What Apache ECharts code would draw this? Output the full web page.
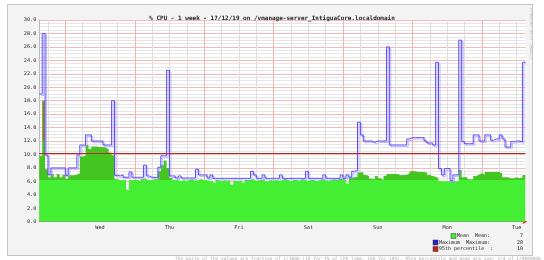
<!DOCTYPE html>
<html><head><meta charset="utf-8">
<script src="https://cdn.jsdelivr.net/npm/echarts@6/dist/echarts.min.js"></script>
<style>
html,body{margin:0;padding:0;background:#fff;}
#wrap{position:relative;width:544px;height:260px;overflow:hidden;}
#panel{position:absolute;left:7px;top:4px;width:524px;height:250px;background:#f3f3f3;border:1px solid #c4c4c4;}
#chart{position:absolute;left:0;top:0;width:544px;height:260px;}
</style></head><body>
<div id="wrap"><div id="panel"></div><div id="chart"></div></div>
<script>
const titleText = '% CPU - 1 week - 17/12/19 on /vmanage-server_IntiguaCore.localdomain';
const dayNames = ['Tue','Wed','Thu','Fri','Sat','Sun','Mon','Tue'];
const startHour = 15; // chart starts Tue 15:00, one value per hour
const mean = [
 9.8,18.0,7.8,6.6,7.1,6.6,7.1,6.6,7.0,6.4,
 6.9,6.9,7.0,7.2,9.7,9.8,11.4,10.8,11.2,11.2,
 11.1,11.1,11.0,10.8,10.3,9.9,6.3,6.2,6.2,6.2,
 4.7,6.2,6.2,6.2,6.0,6.3,6.3,6.2,6.2,6.3,
 6.3,7.5,8.4,9.1,8.0,6.5,6.2,6.2,6.0,6.2,
 6.1,6.2,6.3,6.1,6.2,6.3,6.2,6.2,6.1,6.1,
 5.8,6.2,6.0,6.2,6.1,6.2,5.5,6.1,6.0,6.2,
 5.8,6.2,6.2,6.3,6.1,6.2,6.2,6.3,6.0,6.2,
 6.1,6.2,6.1,6.2,6.3,6.2,6.0,6.2,6.2,6.1,
 6.3,6.2,6.1,6.2,6.2,6.0,6.2,6.3,6.2,6.1,
 6.2,6.3,6.2,6.4,6.3,6.2,5.7,6.5,6.6,6.7,
 7.3,7.4,6.95,6.8,6.4,6.3,6.8,6.45,6.2,6.8,
 7.1,7.1,7.1,7.1,6.9,6.95,6.95,7.2,7.5,7.5,
 7.4,7.4,7.4,7.3,6.95,6.8,6.7,6.45,6.0,6.0,
 6.0,6.0,5.95,6.0,6.0,7.7,6.6,6.6,6.3,6.3,
 6.8,7.0,7.2,7.0,7.4,7.4,7.4,7.4,7.4,7.2,
 6.6,6.6,6.45,6.45,6.6,6.45,6.6,6.95
];
const maximum = [
 19,28,9.9,7.0,8.0,8.0,8.0,8.0,8.0,6.9,
 8.0,8.0,8.0,9.9,11.4,11.4,12.9,12.9,12.0,12.0,
 12.0,12.0,11.4,11.4,11.4,18.0,6.9,6.8,6.95,6.6,
 6.6,7.4,6.6,6.6,6.6,6.6,8.4,6.8,6.6,6.6,
 6.6,8.1,9.8,9.8,22.5,6.8,6.8,6.5,6.8,6.5,
 6.5,6.5,6.5,6.5,7.8,6.95,6.95,6.95,6.5,6.95,
 6.45,6.45,6.45,6.45,6.45,6.45,6.45,6.45,6.45,6.45,
 6.45,6.45,6.45,7.5,6.95,6.45,6.45,6.95,6.45,6.45,
 6.45,6.45,6.45,6.95,6.45,6.45,6.45,6.45,6.45,6.45,
 6.45,6.45,7.5,6.45,6.45,6.45,6.45,6.45,6.95,6.45,
 6.45,6.45,6.45,6.45,6.95,6.45,6.95,6.6,7.5,7.6,
 14.8,12.9,12.0,12.0,12.0,11.8,12.0,12.0,12.0,12.0,
 26.0,11.4,11.4,11.4,11.4,11.4,11.4,12.3,12.5,12.5,
 12.5,12.5,12.5,12.0,11.7,11.7,11.4,23.7,7.9,6.95,
 7.9,7.9,6.1,6.95,6.95,27.0,11.9,11.6,11.6,11.6,
 12.9,12.9,12.0,12.0,12.9,12.9,12.1,12.3,12.3,12.9,
 12.3,11.1,11.1,11.9,12.0,12.0,11.9,23.7
];
const percentile95 = 10.2;
const legendRows = [
  {label: 'Mean  Mean:', value: '7', color: '#44ee33'},
  {label: 'Maximum  Maximum:', value: '28', color: '#2222cc'},
  {label: '95th percentile  :', value: '10', color: '#c02222'}
];
const yMin = 0, yMax = 30, yStep = 2;

// hourly categories (one extra closing point)
const hours = [];
for (let i = 0; i <= mean.length; i++) {
  const t = startHour + i;
  const hod = t % 24;
  hours.push(dayNames[Math.floor(t / 24)] + ' ' + (hod < 10 ? '0' : '') + hod + ':00');
}
const hod = v => parseInt(v.slice(4, 6), 10);
const meanData = mean.concat([mean[mean.length - 1]]);
const maxData = maximum.concat([maximum[maximum.length - 1]]);

const mono = 'DejaVu Sans Mono';
const chart = echarts.init(document.getElementById('chart'), null, {renderer: 'canvas'});
const legendGraphics = [];
const lx = [451, 433, 433], ly = [236, 242.5, 249];
legendRows.forEach((r, k) => {
  legendGraphics.push({type: 'rect', shape: {x: lx[k], y: ly[k] - 2.5, width: 5, height: 5},
    style: {fill: r.color, stroke: '#333', lineWidth: 0.5}, silent: true});
  legendGraphics.push({type: 'text', x: lx[k] + 6, y: ly[k],
    style: {text: r.label, font: '5px ' + mono, fill: '#222', verticalAlign: 'middle', align: 'left'}});
  legendGraphics.push({type: 'text', x: 523, y: ly[k],
    style: {text: r.value, font: '5px ' + mono, fill: '#222', verticalAlign: 'middle', align: 'right'}});
});

chart.setOption({
  animation: false,
  backgroundColor: 'transparent',
  title: {text: titleText, left: 'center', top: 10,
    textStyle: {fontFamily: mono, fontSize: 6, fontWeight: 'bold', color: '#222'}},
  grid: {left: 39.3, right: 18.7, top: 20, bottom: 38.3, show: true, backgroundColor: '#fff', borderWidth: 0},
  visualMap: {show: false, type: 'piecewise', seriesIndex: 0, dimension: 1,
    pieces: [{lt: 6.25, color: '#44ee33'}, {gte: 6.25, lt: 12, color: '#44c522'}, {gte: 12, color: '#7f8a2c'}]},
  xAxis: [
    {type: 'category', data: hours, boundaryGap: false, position: 'bottom',
     axisLabel: {show: false}, axisTick: {show: false},
     axisLine: {show: true, symbol: ['none', 'arrow'], symbolSize: [4, 5], symbolOffset: [0, 2],
       lineStyle: {color: '#e03030', width: 1}},
     splitLine: {show: true, interval: (i, v) => hod(v) === 0, lineStyle: {color: '#f1b2b2', width: 1}}},
    {type: 'category', data: hours, boundaryGap: false, position: 'bottom',
     axisTick: {show: false},
     axisLine: {show: true, lineStyle: {color: '#888', width: 1}},
     axisLabel: {interval: (i, v) => hod(v) === 12, formatter: v => v.slice(0, 3),
       fontFamily: mono, fontSize: 5.2, color: '#222', margin: 3},
     splitLine: {show: true, interval: (i, v) => hod(v) % 6 === 0 && hod(v) !== 0,
       lineStyle: {color: '#dedede', width: 1}}}
  ],
  yAxis: {type: 'value', min: yMin, max: yMax, interval: yStep,
    axisLine: {show: true, lineStyle: {color: '#bbb'}}, axisTick: {show: false},
    axisLabel: {formatter: v => v.toFixed(1), fontFamily: mono, fontSize: 5.2, color: '#222', margin: 3},
    splitLine: {lineStyle: {color: '#f4baba', width: 1}},
    minorTick: {show: false, splitNumber: 4},
    minorSplitLine: {show: true, lineStyle: {color: '#e6e6e6', width: 1}}},
  series: [
    {name: 'Mean', type: 'line', xAxisIndex: 1, data: meanData, step: 'end', symbol: 'none',
     lineStyle: {width: 0}, areaStyle: {opacity: 1}, z: 2, silent: true},
    {name: '95th percentile', type: 'line', xAxisIndex: 1, data: [], z: 3, silent: true,
     markLine: {silent: true, symbol: ['none', 'none'], label: {show: false},
       lineStyle: {color: '#b42828', width: 1, type: 'solid'}, data: [{yAxis: percentile95}]}},
    {name: 'Maximum', type: 'line', xAxisIndex: 1, data: maxData, step: 'end', symbol: 'none',
     lineStyle: {color: '#5a4cff', width: 1, shadowColor: 'rgba(150,140,255,0.6)', shadowOffsetX: 1.5,
       shadowOffsetY: 1.5, shadowBlur: 0}, z: 4, silent: true}
  ],
  graphic: legendGraphics.concat([
    {type: 'text', x: 531, y: 8, rotation: -Math.PI / 2,
     style: {text: 'Created with JRobin', font: '4.5px ' + mono, fill: '#bbb', verticalAlign: 'middle'}},
    {type: 'text', x: 175, y: 256.5,
     style: {text: 'The units of the values are fraction of 1/1000 (10 for 1% of CPU time, 100 for 10%), 95th percentile and mean are over 1/4 of 1/4000000',
       font: '4.5px ' + mono, fill: '#aaa'}}
  ])
});
</script>
</body></html>
